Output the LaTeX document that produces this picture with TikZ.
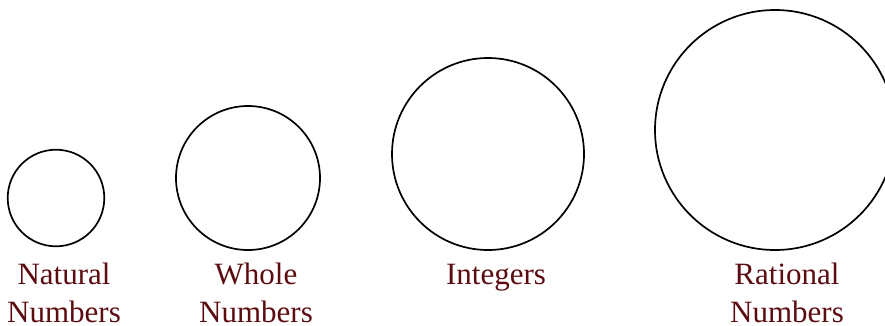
\documentclass[tikz,border=0pt]{standalone}
\usepackage{fontspec}
\setmainfont{Liberation Serif}
\definecolor{SetLabel}{RGB}{92, 12, 16}
\usepackage{tikz}
\usetikzlibrary{positioning}
\tikzset{
  setring/.style={line width=1.7pt, black},
  setname/.style={SetLabel, align=center, anchor=base, inner sep=0pt,
                  font=\fontsize{31}{37.5}\selectfont}
}

\begin{document}
\begin{tikzpicture}[x=1pt, y=-1pt]
        \useasboundingbox (0,0) rectangle (885,325);
        \clip (0,0) rectangle (885,325);
        % the four sets, growing from left to right
        \draw[setring] (56,198)  circle (48.3pt);
        \draw[setring] (248,178) circle (72pt);
        \draw[setring] (488,154) circle (96pt);
        \draw[setring] (775,130) circle (120pt);
        % labels (base anchor = last line)
        \node[setname] (natural)  at (64,322)  {Natural\\Numbers};
        \node[setname] (whole)    at (256,322) {Whole\\Numbers};
        \node[setname] (integers) at (496,284) {Integers};
        \node[setname] (rational) at (787,322) {Rational\\Numbers};
      \end{tikzpicture}
\end{document}
